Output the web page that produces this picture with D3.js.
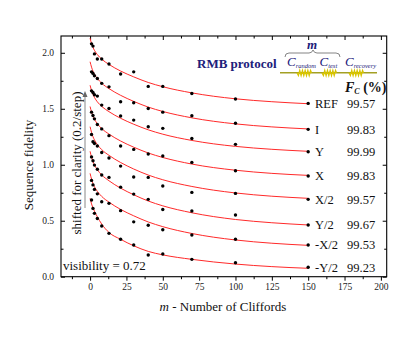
<!DOCTYPE html>
<html><head><meta charset="utf-8">
<script src="https://cdn.jsdelivr.net/npm/d3@7"></script>
<style>
html,body{margin:0;padding:0;background:#fff;}
svg{display:block;}
</style></head>
<body>
<svg id="chart" width="415" height="349"></svg>
<script>
// ---------- data ----------
const mVals = [1, 2, 3, 5, 8, 13, 21, 30, 40, 50, 70, 100, 150];
const fitM  = [0, 1, 2, 3, 5, 8, 13, 21, 30, 40, 50, 70, 100, 125, 150];
const seriesNames = ["REF", "I", "Y", "X", "X/2", "Y/2", "-X/2", "-Y/2"];
const fidelity = ["99.57", "99.83", "99.99", "99.83", "99.57", "99.67", "99.53", "99.23"];

const ptsREF = [2.08, 2.06, 1.99, 1.945, 1.945, 1.90, 1.81, 1.83, 1.70, 1.70, 1.637, 1.587, 1.548];
const ptsI   = [1.83, 1.816, 1.795, 1.771, 1.727, 1.696, 1.5625, 1.554, 1.503, 1.47, 1.4375, 1.37, 1.316];
const ptsY   = [1.66, 1.645, 1.625, 1.613, 1.533, 1.503, 1.435, 1.399, 1.339, 1.325, 1.235, 1.182, 1.116];
const ptsX   = [1.47, 1.44, 1.41, 1.36, 1.32, 1.26, 1.167, 1.137, 1.096, 1.078, 1.021, 0.946, 0.899];
const ptsX2  = [1.27, 1.205, 1.19, 1.167, 1.11, 1.06, 0.988, 0.89, 0.887, 0.81, 0.753, 0.744, 0.691];
const ptsY2  = [1.07, 1.036, 0.997, 0.96, 0.908, 0.887, 0.80, 0.738, 0.691, 0.60, 0.587, 0.551, 0.462];
const ptsmX2 = [0.86, 0.82, 0.78, 0.74, 0.67, 0.655, 0.59, 0.49, 0.46, 0.42, 0.372, 0.334, 0.283];
const ptsmY2 = [0.685, 0.61, 0.566, 0.52, 0.453, 0.387, 0.334, 0.283, 0.194, 0.203, 0.155, 0.125, 0.084];

const fitREF = [2.13, 2.083, 2.048, 2.022, 1.984, 1.943, 1.896, 1.837, 1.785, 1.735, 1.697, 1.642, 1.589, 1.563, 1.545];
const fitI   = [1.92, 1.872, 1.836, 1.809, 1.77, 1.728, 1.68, 1.62, 1.566, 1.515, 1.476, 1.419, 1.365, 1.338, 1.32];
const fitY   = [1.71, 1.663, 1.627, 1.601, 1.562, 1.521, 1.474, 1.415, 1.362, 1.312, 1.273, 1.217, 1.164, 1.138, 1.12];
const fitX   = [1.52, 1.471, 1.434, 1.406, 1.366, 1.323, 1.274, 1.212, 1.157, 1.105, 1.065, 1.006, 0.951, 0.923, 0.905];
const fitX2  = [1.34, 1.289, 1.25, 1.222, 1.18, 1.135, 1.084, 1.02, 0.962, 0.908, 0.866, 0.806, 0.748, 0.719, 0.70];
const fitY2  = [1.12, 1.067, 1.028, 0.998, 0.955, 0.909, 0.857, 0.791, 0.732, 0.676, 0.633, 0.571, 0.511, 0.482, 0.462];
const fitmX2 = [0.923, 0.872, 0.833, 0.804, 0.762, 0.717, 0.666, 0.601, 0.544, 0.489, 0.447, 0.386, 0.328, 0.299, 0.28];
const fitmY2 = [0.70, 0.65, 0.615, 0.585, 0.535, 0.47, 0.395, 0.334, 0.276, 0.226, 0.195, 0.155, 0.113, 0.09, 0.075];

const xMajor = [0, 25, 50, 75, 100, 125, 150, 175, 200];
const xMinor = [-12.5, 12.5, 37.5, 62.5, 87.5, 112.5, 137.5, 162.5, 187.5];
const yMajor = [0, 0.5, 1.0, 1.5, 2.0];
const yMinor = [0.25, 0.75, 1.25, 1.75];

const allPts = [ptsREF, ptsI, ptsY, ptsX, ptsX2, ptsY2, ptsmX2, ptsmY2];
const allFit = [fitREF, fitI, fitY, fitX, fitX2, fitY2, fitmX2, fitmY2];

// ---------- layout ----------
const SERIF = "'Liberation Serif', 'Times New Roman', Times, serif";
const L = 61, R = 386.7, T = 36, B = 276.7;
const x = d3.scaleLinear().domain([-20, 204]).range([L, R]);
const y = d3.scaleLinear().domain([0, 2.15]).range([B, T]);
const svg = d3.select("#chart");
const navy = "#20207a";

// axes
const fmtY = d3.format(".1f");
svg.append("g").attr("transform", `translate(0,${B})`)
  .call(d3.axisBottom(x).tickValues(xMajor).tickSizeInner(4).tickSizeOuter(0).tickPadding(3))
  .call(g => g.select(".domain").remove());
svg.append("g").attr("transform", `translate(0,${B})`)
  .call(d3.axisBottom(x).tickValues(xMinor).tickSizeInner(2.5).tickSizeOuter(0).tickFormat(""))
  .call(g => g.select(".domain").remove());
svg.append("g").attr("transform", `translate(0,${T})`)
  .call(d3.axisTop(x).tickValues(xMajor).tickSizeInner(-4).tickSizeOuter(0).tickFormat(""))
  .call(g => g.select(".domain").remove());
svg.append("g").attr("transform", `translate(0,${T})`)
  .call(d3.axisTop(x).tickValues(xMinor).tickSizeInner(-2.5).tickSizeOuter(0).tickFormat(""))
  .call(g => g.select(".domain").remove());
svg.append("g").attr("transform", `translate(${L},0)`)
  .call(d3.axisLeft(y).tickValues(yMajor).tickSizeInner(-4).tickSizeOuter(0).tickPadding(7).tickFormat(fmtY))
  .call(g => g.select(".domain").remove());
svg.append("g").attr("transform", `translate(${L},0)`)
  .call(d3.axisLeft(y).tickValues(yMinor).tickSizeInner(-2.5).tickSizeOuter(0).tickFormat(""))
  .call(g => g.select(".domain").remove());
svg.append("g").attr("transform", `translate(${R},0)`)
  .call(d3.axisRight(y).tickValues(yMajor).tickSizeInner(-4).tickSizeOuter(0).tickFormat(""))
  .call(g => g.select(".domain").remove());
svg.append("g").attr("transform", `translate(${R},0)`)
  .call(d3.axisRight(y).tickValues(yMinor).tickSizeInner(-2.5).tickSizeOuter(0).tickFormat(""))
  .call(g => g.select(".domain").remove());
svg.selectAll("g").attr("font-family", SERIF);
svg.selectAll(".tick text").attr("font-size", 9.5).attr("fill", "#222");
svg.selectAll(".tick line").attr("stroke", "#000");

svg.append("rect").attr("x", L).attr("y", T).attr("width", R - L).attr("height", B - T)
  .attr("fill", "none").attr("stroke", "#000").attr("stroke-width", 1.1);

// fit curves
const line = d3.line().x(d => x(d[0])).y(d => y(d[1])).curve(d3.curveMonotoneX);
allFit.forEach(f => {
  svg.append("path").datum(fitM.map((m, i) => [m, f[i]]))
    .attr("d", line).attr("fill", "none").attr("stroke", "#ff2a2a").attr("stroke-width", 1);
});
// points
allPts.forEach(p => {
  svg.append("g").selectAll("circle").data(mVals.map((m, i) => [m, p[i]])).join("circle")
    .attr("cx", d => x(d[0])).attr("cy", d => y(d[1])).attr("r", 1.7).attr("fill", "#000");
});

// series labels
seriesNames.forEach((n, i) => {
  const yy = y(allPts[i][allPts[i].length - 1]);
  svg.append("text").attr("x", 315).attr("y", yy).attr("dy", "0.35em")
    .attr("font-size", 12.5).attr("fill", "#111").text(n);
  svg.append("text").attr("x", 347).attr("y", yy).attr("dy", "0.35em")
    .attr("font-size", 12.5).attr("fill", "#111").text(fidelity[i]);
});

// F_C (%)
const fc = svg.append("text").attr("x", 345).attr("y", 91.5).attr("font-size", 14).attr("font-weight", "bold").attr("fill", "#111");
fc.append("tspan").attr("font-style", "italic").text("F");
fc.append("tspan").attr("font-style", "italic").attr("font-size", 8).attr("dy", 2.5).text("C");
fc.append("tspan").attr("dy", -2.5).text(" (%)");

// RMB protocol diagram
svg.append("text").attr("x", 197).attr("y", 67.5).attr("font-size", 13).attr("font-weight", "bold")
  .attr("fill", navy).text("RMB protocol");
svg.append("text").attr("x", 312).attr("y", 49).attr("text-anchor", "middle").attr("font-size", 13)
  .attr("font-weight", "bold").attr("font-style", "italic").attr("fill", navy).text("m");
svg.append("path").attr("d", "M285,57 Q285,53 289,53 L309,53 Q312,53 313,50 Q314,53 317,53 L336,53 Q340,53 340,57")
  .attr("fill", "none").attr("stroke", "#666").attr("stroke-width", 0.8);
const cLabel = (x0, sub) => {
  const t = svg.append("text").attr("x", x0).attr("y", 66).attr("font-size", 13).attr("font-style", "italic").attr("fill", navy);
  t.append("tspan").text("C");
  t.append("tspan").attr("font-size", 6.5).attr("dy", 2).text(sub);
};
cLabel(287, "random");
cLabel(319.5, "test");
cLabel(345, "recovery");
svg.append("line").attr("x1", 280).attr("x2", 377).attr("y1", 72.7).attr("y2", 72.7)
  .attr("stroke", "#a3a024").attr("stroke-width", 1.6);
[297, 322, 349].forEach(sx => {
  let d = `M${sx},72.7`;
  for (let k = 0; k < 5; k++) { const cx = sx + 1.4 + k * 2.7; d += ` L${cx},75.5 L${cx + 1.35},70.5`; }
  d += ` L${sx + 14.5},72.7`;
  svg.append("path").attr("d", d).attr("fill", "none").attr("stroke", "#d8c400").attr("stroke-width", 1.3);
});

// annotations
svg.append("text").attr("x", 63).attr("y", 270).attr("font-size", 13).attr("fill", "#111").text("visibility = 0.72");
svg.append("text").attr("transform", "translate(28.5,165) rotate(-90)").attr("text-anchor", "middle")
  .attr("dy", "0.35em").attr("font-size", 13).attr("fill", "#111").text("Sequence fidelity");
svg.append("text").attr("transform", "translate(76.5,163) rotate(-90)").attr("text-anchor", "middle")
  .attr("dy", "0.35em").attr("font-size", 13).attr("fill", "#111").text("shifted for clarity (0.2/step)");
svg.append("line").attr("x1", 85).attr("x2", 85).attr("y1", 208).attr("y2", 95).attr("stroke", "#888").attr("stroke-width", 1);
svg.append("path").attr("d", "M82.5,97 L85,91 L87.5,97 Z").attr("fill", "#666");
const xl = svg.append("text").attr("x", 223).attr("y", 310.5).attr("text-anchor", "middle").attr("font-size", 13).attr("fill", "#111");
xl.append("tspan").attr("font-style", "italic").text("m");
xl.append("tspan").text(" - Number of Cliffords");

svg.selectAll("text").attr("font-family", SERIF);
</script>
</body></html>
